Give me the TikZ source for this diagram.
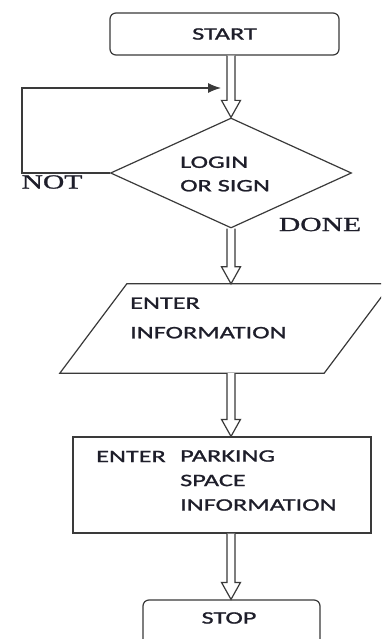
\documentclass[tikz,border=0pt]{standalone}
\usepackage{fontspec}
\usetikzlibrary{calc,shapes.geometric,arrows.meta}
\newfontfamily\diasans[FakeStretch=1.5,FakeBold=1.2]{Carlito}
\newfontfamily\diaserif[FakeStretch=1.48,FakeBold=1.2]{Liberation Serif}
\definecolor{linec}{HTML}{3A3A3A}
\definecolor{textc}{HTML}{1E1E2A}
\tikzset{
  lines/.style={draw=linec, line width=1.2pt},
  boxtext/.style={font=\diasans\fontsize{17.5}{24.5}\selectfont, text=textc, inner sep=0pt, align=left},
  labeltext/.style={font=\diaserif\fontsize{20}{24}\selectfont, text=textc, inner sep=0pt},
  harrow/.style={lines, fill=white, line join=miter},
  looparrow/.style={lines, -{Latex[length=13pt,width=10pt]}},
}
\newcommand\hollowarrow[2]{%
  \draw[harrow] let \p1=(#1), \p2=(#2) in
    (\x1-4pt,\y1) -- (\x1-4pt,\y2+17pt) -- (\x1-9.5pt,\y2+17pt) -- (\x1,\y2)
    -- (\x1+9.5pt,\y2+17pt) -- (\x1+4pt,\y2+17pt) -- (\x1+4pt,\y1);}
\begin{document}
\begin{tikzpicture}[x=1pt,y=-1pt]
  \clip (0,0) rectangle (381,639);
  \fill[white] (0,0) rectangle (381,639);
  % START
  \node[lines, rounded corners=6pt, minimum width=229pt, minimum height=42pt, inner sep=0pt,
        boxtext] (start) at (224.5,34) {START};
  % decision
  \node[lines, shape=diamond, shape aspect=2.19, minimum width=241pt, minimum height=110pt,
        inner sep=0pt] (dia) at (231,173) {};
  \node[boxtext, anchor=west, font=\diasans\fontsize{17.5}{23.5}\selectfont] (diatext) at (180,174) {LOGIN\\OR SIGN};
  % loop back
  \coordinate (loopcorner) at (22,88);
  \coordinate (loopend) at (221,88);
  \draw[looparrow] (dia.west) -| (loopcorner) -- (loopend);
  \node[labeltext] (notlab) at (52,182) {NOT};
  \node[labeltext] (donelab) at (320,224.5) {DONE};
  % input parallelogram
  \node[minimum width=331pt, minimum height=89pt, inner sep=0pt] (info) at (225.5,328.5) {};
  \draw[lines, line join=miter] ([xshift=67pt]info.north west) -- (info.north east)
     -- ([xshift=-67pt]info.south east) -- (info.south west) -- cycle;
  \node[boxtext, anchor=west, font=\diasans\fontsize{17.5}{29.5}\selectfont] (infotext) at (130,318) {ENTER\\INFORMATION};
  % process box
  \node[lines, minimum width=298pt, minimum height=96pt, inner sep=0pt] (park) at (222,485) {};
  \node[boxtext, anchor=west] (parkenter) at (96,456.5) {ENTER};
  \node[boxtext, anchor=west] (parktext) at (180,480.5) {PARKING\\SPACE\\INFORMATION};
  % STOP
  \node[lines, rounded corners=6pt, minimum width=177pt, minimum height=70pt, inner sep=0pt] (stop) at (231.5,635) {};
  \node[boxtext] (stoptext) at (229,618) {STOP};
  % hollow arrows
  \hollowarrow{start.south -| dia.north}{dia.north}
  \hollowarrow{dia.south}{info.north -| dia.south}
  \hollowarrow{info.south -| dia.south}{park.north -| dia.south}
  \hollowarrow{park.south -| dia.south}{stop.north -| dia.south}
\end{tikzpicture}
\end{document}
